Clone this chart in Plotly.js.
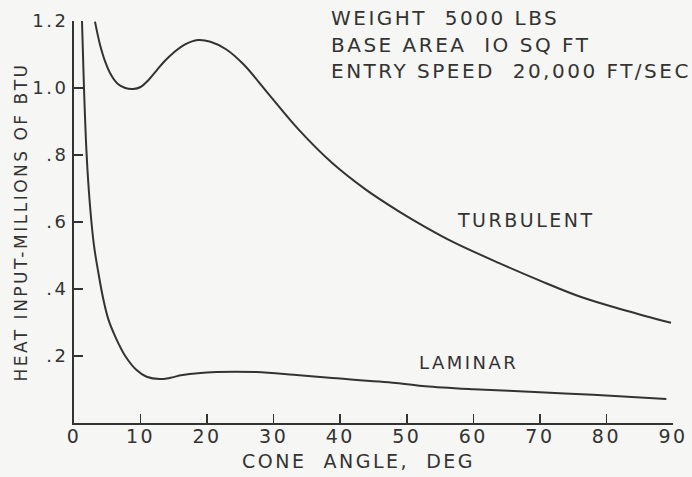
<!DOCTYPE html>
<html>
<head>
<meta charset="utf-8">
<script src="https://cdn.plot.ly/plotly-3.0.1.min.js"></script>
<style>
html,body{margin:0;padding:0;background:#f6f6f5;}
#chart{width:692px;height:477px;}
svg text{letter-spacing:2.5px;}
</style>
</head>
<body>
<div id="chart"></div>
<script>
// Cone angle (deg) and heat input (millions of BTU)
const laminarAngle = [1.2,1.5,1.9,2.4,3.0,3.65,4.4,5.15,6.2,7.7,9.4,10.9,12.9,14.5,16.3,21.4,27.4,33,38.8,48.8,52.8,60,70,78,89];
const laminarHeat  = [1.2,1.0,0.8,0.65,0.53,0.45,0.37,0.31,0.258,0.2,0.158,0.138,0.131,0.135,0.143,0.152,0.152,0.144,0.134,0.119,0.11,0.101,0.092,0.084,0.072];
const turbAngle = [3.15,3.9,4.7,5.6,6.6,7.7,8.9,10.0,11.2,12.4,13.6,15.0,16.7,18.6,20.5,22.9,25.5,28.9,33.8,38.8,43.9,48.8,52.8,57,63.8,70,76.2,83,89.7];
const turbHeat  = [1.198,1.13,1.078,1.038,1.012,1.0,0.997,1.003,1.024,1.052,1.08,1.106,1.13,1.143,1.138,1.115,1.07,0.99,0.875,0.776,0.696,0.632,0.585,0.54,0.478,0.425,0.376,0.335,0.299];
const xTickVals = [0,10,20,30,40,50,60,70,80,90];
const xTickText = ["0","10","20","30","40","50","60","70","80","90"];
const yTickVals = [0.2,0.4,0.6,0.8,1.0,1.2];
const yTickText = [".2",".4",".6",".8","1.0","1.2"];
const infoLines = ["WEIGHT  5000 LBS","BASE AREA  IO SQ FT","ENTRY SPEED  20,000 FT/SEC"];

const ink = '#333333';
const font = {family:'DejaVu Sans', color:ink};

const traces = [
  {x: laminarAngle, y: laminarHeat, mode:'lines', name:'LAMINAR',
   line:{color:ink, width:2, shape:'spline', smoothing:1}},
  {x: turbAngle, y: turbHeat, mode:'lines', name:'TURBULENT',
   line:{color:ink, width:2, shape:'spline', smoothing:1}}
];

const annotations = [
  {text:'TURBULENT', x:67.9, y:0.606, xref:'x', yref:'y', showarrow:false, font:Object.assign({size:19},font)},
  {text:'LAMINAR', x:59.2, y:0.18, xref:'x', yref:'y', showarrow:false, font:Object.assign({size:18},font)},
  {text:'CONE  ANGLE,  DEG', x:(358-74)/599, y:-0.095, xref:'paper', yref:'paper', showarrow:false, xanchor:'center', yanchor:'middle', font:Object.assign({size:19},font)}
];
const infoY = [17.5, 45.5, 71];
infoLines.forEach((t,i)=>{
  annotations.push({text:t, x:(329-74)/599, y:(423-infoY[i])/402, xref:'paper', yref:'paper',
    xanchor:'left', yanchor:'middle', align:'left', showarrow:false, font:Object.assign({size:20},font)});
});

const layout = {
  width:692, height:477,
  margin:{l:74, r:19, t:21, b:54},
  paper_bgcolor:'#f6f6f5', plot_bgcolor:'#f6f6f5',
  showlegend:false,
  font:font,
  xaxis:{range:[0,90], tickvals:xTickVals, ticktext:xTickText, ticks:'inside', ticklen:9, tickwidth:1.5, tickcolor:ink,
         showline:true, linecolor:ink, linewidth:2, showgrid:false, zeroline:false, ticklabelstandoff:-5,
         tickfont:{size:19, family:'DejaVu Sans', color:ink}},
  yaxis:{range:[0,1.2], tickvals:yTickVals, ticktext:yTickText, ticks:'inside', ticklen:9, tickwidth:1.5, tickcolor:ink,
         showline:true, linecolor:ink, linewidth:2, showgrid:false, zeroline:false,
         tickfont:{size:18, family:'DejaVu Sans', color:ink},
         title:{text:'HEAT INPUT-MILLIONS OF BTU', font:{size:17, family:'DejaVu Sans', color:ink}, standoff:0}},
  annotations:annotations
};

Plotly.newPlot('chart', traces, layout, {staticPlot:true});
</script>
</body>
</html>
